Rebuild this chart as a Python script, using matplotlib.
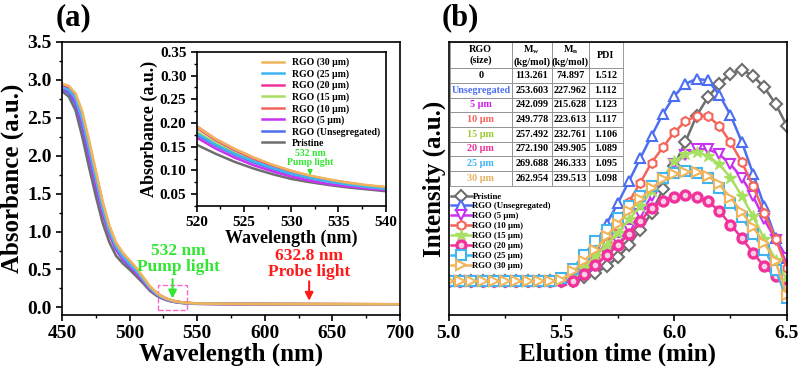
import numpy as np
import matplotlib.pyplot as plt
from matplotlib.patches import Rectangle
from matplotlib.ticker import MultipleLocator

plt.rcParams['font.family'] = ['Liberation Serif', 'DejaVu Serif']
plt.rcParams['font.weight'] = 'bold'
plt.rcParams['axes.labelweight'] = 'bold'
plt.rcParams['mathtext.fontset'] = 'custom'
plt.rcParams['mathtext.rm'] = 'Liberation Serif:bold'
plt.rcParams['mathtext.it'] = 'Liberation Serif:bold'

# ---- (a) UV-vis absorbance ----
wl = [450, 455, 460, 465, 470, 475, 480, 485, 490, 495, 500, 505, 510, 515,
      520, 522, 524, 526, 528, 530, 532, 534, 536, 538, 540, 545, 550, 575,
      600, 650, 700]

abs_pristine = [2.85, 2.78, 2.60, 2.25, 1.85, 1.47, 1.12, 0.86, 0.68, 0.58, 0.50, 0.41, 0.32, 0.22,
                0.154, 0.135, 0.118, 0.104, 0.092, 0.082, 0.075, 0.069, 0.064, 0.060, 0.056, 0.050, 0.047, 0.043,
                0.041, 0.039, 0.037]
abs_unseg = [2.88, 2.83, 2.68, 2.38, 1.98, 1.60, 1.24, 0.96, 0.76, 0.63, 0.54, 0.45, 0.35, 0.25,
             0.175, 0.152, 0.133, 0.117, 0.103, 0.092, 0.083, 0.076, 0.070, 0.065, 0.061, 0.054, 0.050, 0.045,
             0.043, 0.041, 0.039]
abs_5 = [2.88, 2.86, 2.72, 2.42, 2.02, 1.62, 1.25, 0.97, 0.77, 0.64, 0.55, 0.45, 0.35, 0.24,
         0.169, 0.146, 0.127, 0.111, 0.098, 0.087, 0.078, 0.071, 0.066, 0.062, 0.058, 0.052, 0.048, 0.044,
         0.042, 0.040, 0.038]
abs_10 = [2.93, 2.90, 2.80, 2.55, 2.17, 1.77, 1.38, 1.06, 0.84, 0.71, 0.61, 0.51, 0.39, 0.27,
          0.193, 0.166, 0.145, 0.127, 0.111, 0.099, 0.088, 0.080, 0.074, 0.068, 0.064, 0.056, 0.052, 0.047,
          0.045, 0.043, 0.041]
abs_15 = [2.91, 2.88, 2.77, 2.50, 2.12, 1.72, 1.33, 1.02, 0.81, 0.68, 0.58, 0.49, 0.375, 0.26,
          0.182, 0.158, 0.138, 0.121, 0.107, 0.095, 0.085, 0.077, 0.071, 0.066, 0.062, 0.055, 0.051, 0.046,
          0.044, 0.042, 0.040]
abs_20 = [2.92, 2.89, 2.79, 2.53, 2.15, 1.75, 1.36, 1.05, 0.83, 0.70, 0.60, 0.50, 0.385, 0.265,
          0.190, 0.164, 0.143, 0.125, 0.110, 0.097, 0.087, 0.079, 0.073, 0.067, 0.063, 0.056, 0.051, 0.046,
          0.044, 0.042, 0.040]
abs_25 = [2.90, 2.87, 2.76, 2.48, 2.10, 1.70, 1.31, 1.01, 0.80, 0.67, 0.57, 0.48, 0.37, 0.255,
          0.178, 0.154, 0.135, 0.119, 0.105, 0.093, 0.084, 0.076, 0.070, 0.065, 0.061, 0.054, 0.050, 0.046,
          0.044, 0.042, 0.040]
abs_30 = [2.95, 2.92, 2.82, 2.58, 2.20, 1.80, 1.40, 1.08, 0.85, 0.72, 0.62, 0.52, 0.40, 0.28,
          0.192, 0.166, 0.145, 0.127, 0.112, 0.099, 0.089, 0.081, 0.074, 0.069, 0.065, 0.057, 0.052, 0.047,
          0.045, 0.043, 0.041]

labels = ['Pristine', 'RGO (Unsegregated)', 'RGO (5 μm)', 'RGO (10 μm)',
          'RGO (15 μm)', 'RGO (20 μm)', 'RGO (25 μm)', 'RGO (30 μm)']
colors = ['#6E6E6E', '#4C6EF0', '#C832F0', '#F5645A',
          '#A8E063', '#F0329A', '#41B4F0', '#F0B45A']
abs_all = [abs_pristine, abs_unseg, abs_5, abs_10, abs_15, abs_20, abs_25, abs_30]

# ---- (b) GPC ----
t = [5.00, 5.05, 5.10, 5.15, 5.20, 5.25, 5.30, 5.35, 5.40, 5.45, 5.50,
     5.55, 5.60, 5.65, 5.70, 5.75, 5.80, 5.85, 5.90, 5.95, 6.00,
     6.05, 6.10, 6.15, 6.20, 6.25, 6.30, 6.35, 6.40, 6.45, 6.50]

gpc_pristine = [0, 0, 0, 0, 0, 0, 0, 0, 0, 0, 0,
                0.0, 0.12, 0.25, 0.45, 0.72, 1.08, 1.55, 2.05, 2.75, 3.45,
                4.17, 4.95, 5.5, 5.9, 6.2, 6.32, 6.13, 5.8, 5.3, 4.65]
gpc_unseg = [0, 0, 0, 0, 0, 0, 0, 0, 0, 0, 0.05,
             0.3, 0.62, 1.1, 1.72, 2.33, 3.0, 3.68, 4.35, 5.0, 5.53,
             5.9, 6.05, 6.0, 5.58, 4.97, 4.17, 3.22, 2.25, 1.3, 0.7]
gpc_5 = [0, 0, 0, 0, 0, 0, 0, 0, 0, 0, 0,
         0.05, 0.2, 0.45, 0.8, 1.18, 1.57, 2.0, 2.55, 3.1, 3.5,
         3.78, 3.95, 3.95, 3.8, 3.5, 3.1, 2.55, 1.85, 1.25, 0.7]
gpc_10 = [0, 0, 0, 0, 0, 0, 0, 0, 0, 0, 0.02,
          0.15, 0.42, 0.75, 1.15, 1.65, 2.38, 2.95, 3.55, 4.0, 4.45,
          4.78, 4.95, 4.93, 4.65, 4.15, 3.57, 2.85, 2.05, 1.28, 0.4]
gpc_15 = [0, 0, 0, 0, 0, 0, 0, 0, 0, 0, 0.03,
          0.15, 0.4, 0.75, 1.1, 1.45, 1.85, 2.25, 2.7, 3.05, 3.6,
          3.8, 3.87, 3.75, 3.5, 3.1, 2.55, 1.95, 1.27, 0.65, 0.05]
gpc_20 = [0, 0, 0, 0, 0, 0, 0, 0, 0, 0, 0,
          0.0, 0.22, 0.5, 0.78, 1.08, 1.42, 1.8, 2.2, 2.4, 2.53,
          2.57, 2.53, 2.4, 2.1, 1.7, 1.3, 0.85, 0.45, 0.15, -0.15]
gpc_25 = [0, 0, 0, 0, 0, 0, 0, 0, 0, 0, 0.1,
          0.38, 0.8, 1.22, 1.55, 1.9, 2.25, 2.55, 2.85, 3.08, 3.25,
          3.3, 3.25, 3.1, 2.8, 2.35, 1.92, 1.42, 0.95, 0.35, -0.5]
gpc_30 = [0, 0, 0, 0, 0, 0, 0, 0, 0, 0, 0.05,
          0.3, 0.6, 0.95, 1.35, 1.72, 2.1, 2.45, 2.78, 3.05, 3.2,
          3.28, 3.27, 3.15, 2.9, 2.5, 2.08, 1.62, 1.15, 0.6, -0.4]
gpc_all = [gpc_pristine, gpc_unseg, gpc_5, gpc_10, gpc_15, gpc_20, gpc_25, gpc_30]
markers = ['D', '^', 'v', 'h', '*', 'o', 's', '>']

# table
tab_size = ['0', 'Unsegregated', '5 μm', '10 μm', '15 μm', '20 μm', '25 μm', '30 μm']
tab_mw = ['113.261', '253.603', '242.099', '249.778', '257.492', '272.190', '269.688', '262.954']
tab_mn = ['74.897', '227.962', '215.628', '223.613', '232.761', '249.905', '246.333', '239.513']
tab_pdi = ['1.512', '1.112', '1.123', '1.117', '1.106', '1.089', '1.095', '1.098']
tab_colors = ['black', '#4C6EF0', '#D020E8', '#F5645A', '#9ACD32', '#F0329A', '#41B4F0', '#E8B060']

fig = plt.figure(figsize=(8, 3.71), dpi=100)

def style_ax(ax, size):
    for s in ax.spines.values():
        s.set_linewidth(1.2)
    ax.tick_params(which='major', direction='out', length=4, width=1.2, labelsize=size)
    ax.tick_params(which='minor', direction='out', length=2, width=1.0)

# ---------- panel (a) ----------
ax1 = fig.add_axes([0.0775, 0.151, 0.4225, 0.736])
for y, c, lab in zip(abs_all, colors, labels):
    ax1.plot(wl, y, color=c, lw=1.9, label=lab)
ax1.set_xlim(450, 700)
ax1.set_ylim(-0.1, 3.5)
ax1.xaxis.set_major_locator(MultipleLocator(50))
ax1.xaxis.set_minor_locator(MultipleLocator(25))
ax1.yaxis.set_major_locator(MultipleLocator(0.5))
ax1.yaxis.set_minor_locator(MultipleLocator(0.25))
style_ax(ax1, 14)
ax1.set_xlabel('Wavelength (nm)', fontsize=18, labelpad=0)
ax1.set_ylabel('Absorbance (a.u.)', fontsize=18, labelpad=2)

green = '#33E633'
red = '#FF1A1A'
ax1.text(535.8, 0.64, '532 nm\nPump light', color=green, ha='center', va='center',
         fontsize=12.5, linespacing=0.95)
ax1.annotate('', xy=(531.8, 0.08), xytext=(531.8, 0.41),
             arrowprops=dict(arrowstyle='-|>', color=green, lw=1.5, mutation_scale=12))
ax1.text(633, 0.57, '632.8 nm\nProbe light', color=red, ha='center', va='center',
         fontsize=12.5, linespacing=0.95)
ax1.annotate('', xy=(632.8, 0.05), xytext=(632.8, 0.38),
             arrowprops=dict(arrowstyle='-|>', color=red, lw=1.5, mutation_scale=12))
ax1.add_patch(Rectangle((521, -0.03), 21.5, 0.33, fill=False, ls='--',
                        ec='#FF66CC', lw=1.0))
ax1.text(-0.02, 1.035, '(a)', transform=ax1.transAxes, fontsize=22, ha='left', va='bottom')

# inset
axi = fig.add_axes([0.246, 0.445, 0.236, 0.415])
for y, c, lab in zip(abs_all, colors, labels):
    axi.plot(wl, y, color=c, lw=1.8, label=lab)
axi.set_xlim(520, 540)
axi.set_ylim(0.025, 0.35)
axi.xaxis.set_major_locator(MultipleLocator(5))
axi.xaxis.set_minor_locator(MultipleLocator(2.5))
axi.yaxis.set_major_locator(MultipleLocator(0.05))
axi.yaxis.set_minor_locator(MultipleLocator(0.025))
style_ax(axi, 11)
axi.set_xlabel('Wavelength (nm)', fontsize=13, labelpad=0)
axi.set_ylabel('Absorbance (a.u.)', fontsize=13, labelpad=1)
axi.text(532, 0.126, '532 nm\nPump light', color=green, ha='center', va='center',
         fontsize=7, linespacing=0.9)
axi.annotate('', xy=(532, 0.084), xytext=(532, 0.108),
             arrowprops=dict(arrowstyle='-|>', color=green, lw=1.0, mutation_scale=7))
h, l = axi.get_legend_handles_labels()
axi.legend(h[::-1], l[::-1], loc='upper right', frameon=False, fontsize=7,
           handlelength=2.3, labelspacing=0.2, borderaxespad=0.2, handletextpad=0.8)

# ---------- panel (b) ----------
ax2 = fig.add_axes([0.561, 0.151, 0.4225, 0.736])
for y, c, lab, m in zip(gpc_all, colors, labels, markers):
    if m == '*':
        ax2.plot(t, y, color=c, lw=1.8, marker=m, ms=9, mfc=c, mec=c, label=lab)
    elif m == 'o':
        ax2.plot(t, y, color=c, lw=1.8, marker=m, ms=6.5, mfc='#FBD0E6', mec=c, mew=2.4, label=lab)
    else:
        ax2.plot(t, y, color=c, lw=1.8, marker=m, ms=6.5, mfc='white', mec=c, mew=1.5, label=lab)
ax2.set_xlim(5.0, 6.5)
ax2.set_ylim(-1.0, 7.15)
ax2.xaxis.set_major_locator(MultipleLocator(0.5))
ax2.xaxis.set_minor_locator(MultipleLocator(0.25))
ax2.set_yticks([])
ax2.xaxis.set_major_formatter(plt.FormatStrFormatter('%.1f'))
style_ax(ax2, 14)
ax2.set_xlabel('Elution time (min)', fontsize=18, labelpad=0)
ax2.set_ylabel('Intensity (a.u.)', fontsize=18, labelpad=2)
ax2.text(-0.02, 1.035, '(b)', transform=ax2.transAxes, fontsize=22, ha='left', va='bottom')
ax2.legend(loc='upper left', bbox_to_anchor=(0.0, 0.455), frameon=False, fontsize=6.3,
           handlelength=2.4, labelspacing=0.2, borderaxespad=0.1, handletextpad=0.1,
           borderpad=0.1)

cell_text = [[s, a, b, p] for s, a, b, p in zip(tab_size, tab_mw, tab_mn, tab_pdi)]
col_labels = ['RGO\n(size)', 'M$_w$\n(kg/mol)', 'M$_n$\n(kg/mol)', 'PDI']
tab = ax2.table(cellText=cell_text, colLabels=col_labels, cellLoc='center',
                colWidths=[62, 40, 37, 34], bbox=[0.003, 0.474, 0.512, 0.526])
tab.auto_set_font_size(False)
for (r, c), cell in tab.get_celld().items():
    cell.set_edgecolor('#8A8A8A')
    cell.set_linewidth(0.6)
    cell.set_facecolor('white')
    cell.get_text().set_fontsize(7.3)
    cell.get_text().set_fontweight('bold')
    if r == 0:
        cell.set_height(cell.get_height() * 1.8)
    elif c == 0:
        cell.get_text().set_color(tab_colors[r - 1])

fig.savefig('out.png', dpi=100)
